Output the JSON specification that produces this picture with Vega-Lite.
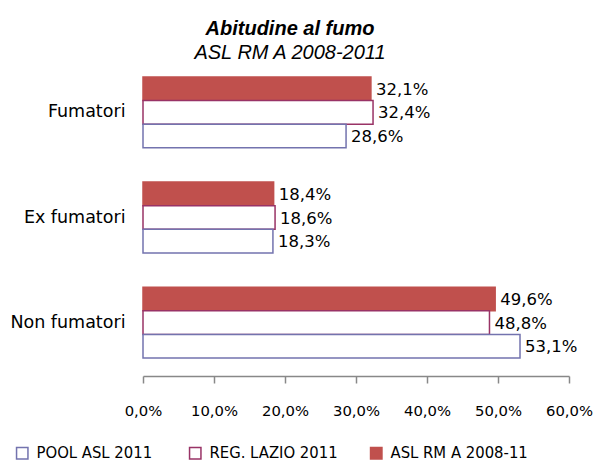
{
  "$schema": "https://vega.github.io/schema/vega-lite/v6.json",
  "width": 426,
  "height": 317,
  "autosize": {"type": "none"},
  "padding": {"left": 143, "top": 59, "right": 38, "bottom": 88},
  "background": "white",
  "config": {
    "locale": {"number": {"decimal": ",", "thousands": ".", "grouping": [3], "currency": ["", " €"]}},
    "view": {"stroke": null}
  },
  "title": {
    "text": "Abitudine al fumo",
    "subtitle": "ASL RM A 2008-2011",
    "font": "Liberation Sans",
    "fontSize": 20,
    "fontWeight": "bold",
    "fontStyle": "italic",
    "color": "black",
    "subtitleFont": "Liberation Sans",
    "subtitleFontSize": 20,
    "subtitleFontStyle": "italic",
    "subtitleColor": "black",
    "subtitlePadding": 4,
    "anchor": "middle",
    "dx": -66,
    "offset": -4
  },
  "data": {
    "values": [
      {"cat": "Fumatori", "series": "ASL RM A 2008-11", "value": 0.321},
      {"cat": "Fumatori", "series": "REG. LAZIO 2011", "value": 0.324},
      {"cat": "Fumatori", "series": "POOL ASL  2011", "value": 0.286},
      {"cat": "Ex fumatori", "series": "ASL RM A 2008-11", "value": 0.184},
      {"cat": "Ex fumatori", "series": "REG. LAZIO 2011", "value": 0.186},
      {"cat": "Ex fumatori", "series": "POOL ASL  2011", "value": 0.183},
      {"cat": "Non fumatori", "series": "ASL RM A 2008-11", "value": 0.496},
      {"cat": "Non fumatori", "series": "REG. LAZIO 2011", "value": 0.488},
      {"cat": "Non fumatori", "series": "POOL ASL  2011", "value": 0.531}
    ]
  },
  "encoding": {
    "y": {
      "field": "cat",
      "type": "nominal",
      "sort": ["Fumatori", "Ex fumatori", "Non fumatori"],
      "scale": {"paddingInner": 0.326, "paddingOuter": 0.171},
      "axis": {
        "title": null,
        "domain": false,
        "ticks": false,
        "labelPadding": 18,
        "labelFont": "DejaVu Sans",
        "labelFontSize": 17.5,
        "labelColor": "black"
      }
    },
    "yOffset": {
      "field": "series",
      "type": "nominal",
      "sort": ["ASL RM A 2008-11", "REG. LAZIO 2011", "POOL ASL  2011"],
      "scale": {"paddingInner": 0, "paddingOuter": 0}
    },
    "x": {
      "field": "value",
      "type": "quantitative",
      "scale": {"domain": [0, 0.6], "nice": false},
      "axis": {
        "title": null,
        "format": ".1%",
        "values": [0, 0.1, 0.2, 0.3, 0.4, 0.5, 0.6],
        "grid": false,
        "domainColor": "#888888",
        "domainWidth": 1.5,
        "tickColor": "#888888",
        "tickWidth": 1.5,
        "tickSize": 7,
        "labelPadding": 20,
        "labelFont": "DejaVu Sans",
        "labelFontSize": 14.8,
        "labelColor": "black",
        "labelFlush": false
      }
    }
  },
  "layer": [
    {
      "mark": {"type": "bar", "strokeWidth": 1.5},
      "encoding": {
        "fill": {
          "field": "series",
          "type": "nominal",
          "scale": {
            "domain": ["POOL ASL  2011", "REG. LAZIO 2011", "ASL RM A 2008-11"],
            "range": ["white", "white", "#C0504D"]
          },
          "legend": {
            "title": null,
            "orient": "none",
            "direction": "horizontal",
            "legendX": -129,
            "legendY": 386,
            "symbolType": "square",
            "symbolSize": 130,
            "symbolStrokeWidth": 1.5,
            "labelFont": "DejaVu Sans Condensed",
            "labelFontSize": 16.5,
            "labelColor": "black",
            "columnPadding": 29,
            "labelOffset": 6
          }
        },
        "stroke": {
          "field": "series",
          "type": "nominal",
          "scale": {
            "domain": ["POOL ASL  2011", "REG. LAZIO 2011", "ASL RM A 2008-11"],
            "range": ["#7373AE", "#993366", "#C0504D"]
          },
          "legend": {
            "title": null,
            "orient": "none",
            "direction": "horizontal",
            "legendX": -129,
            "legendY": 386,
            "symbolType": "square",
            "symbolSize": 130,
            "symbolStrokeWidth": 1.5,
            "labelFont": "DejaVu Sans Condensed",
            "labelFontSize": 16.5,
            "labelColor": "black",
            "columnPadding": 29,
            "labelOffset": 6
          }
        }
      }
    },
    {
      "mark": {"type": "text", "align": "left", "baseline": "middle", "dx": 5, "dy": 1, "font": "DejaVu Sans", "fontSize": 16.5, "color": "black"},
      "encoding": {
        "text": {"field": "value", "type": "quantitative", "format": ".1%"}
      }
    }
  ]
}
